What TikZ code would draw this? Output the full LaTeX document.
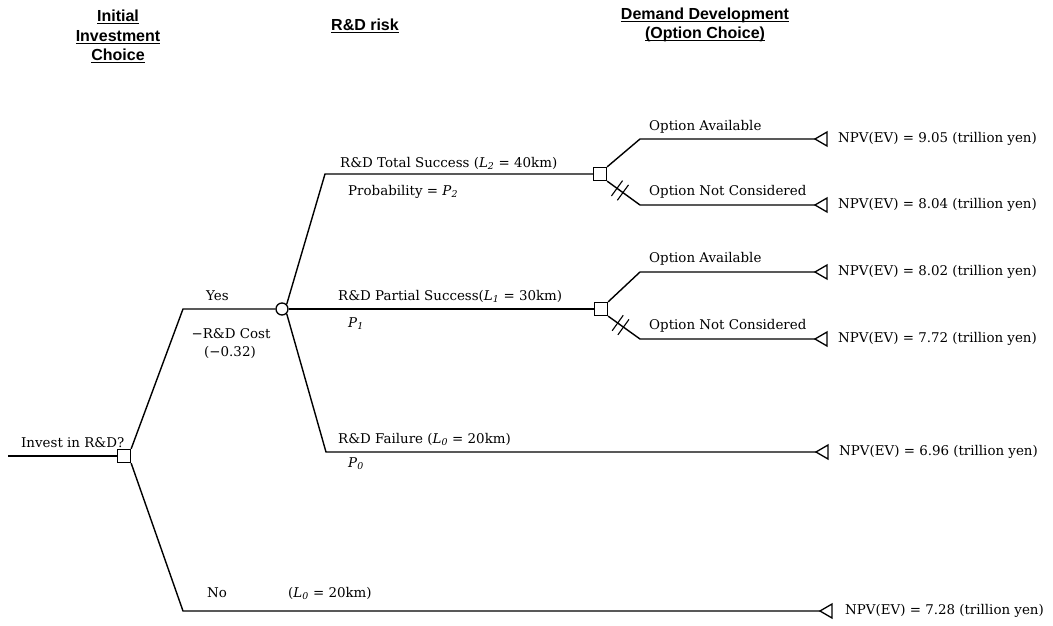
\documentclass[tikz,border=0pt]{standalone}
\usepackage{fontspec}
\setmainfont{DejaVu Serif}
\newfontfamily\hdrfont{Liberation Sans}
\usetikzlibrary{calc}

% underline a header line with a rule that sits just under the baseline
\newcommand\hdrline[1]{\setbox0=\hbox{#1}\rlap{\rule[-2.4pt]{\wd0}{1.3pt}}\box0}
% italic variable with italic subscript
\newcommand\var[2]{\textit{#1}\textsubscript{\textit{#2}}}

\tikzset{
  decision/.style={draw, fill=white, rectangle, minimum size=13pt, inner sep=0pt, line width=1.3pt},
  chance/.style={draw, fill=white, circle, minimum size=12pt, inner sep=0pt, line width=1.3pt},
  branch/.style={line width=1.4pt},
  lbl/.style={anchor=base west, inner sep=0pt, font=\fontsize{13.4}{15}\selectfont},
  lblc/.style={anchor=base, inner sep=0pt, font=\fontsize{13.4}{15}\selectfont},
  npv/.style={anchor=west, inner sep=0pt, font=\fontsize{13.4}{15}\selectfont},
  hdr/.style={anchor=base, inner sep=0pt, font=\hdrfont\bfseries\fontsize{16}{19.5}\selectfont},
  payoff/.pic={\draw[line width=1.3pt, line join=miter] (0,0) -- (12,-7) -- (12,7) -- cycle;}
}

\begin{document}
\begin{tikzpicture}[x=1pt, y=-1pt]
\useasboundingbox (0,0) rectangle (1053,626);

% column headers
\node[hdr] (h1a) at (118,22) {\hdrline{Initial}};
\node[hdr] (h1b) at (118,41.5) {\hdrline{Investment}};
\node[hdr] (h1c) at (118,61) {\hdrline{Choice}};
\node[hdr] (h2)  at (365,31) {\hdrline{R\&D risk}};
\node[hdr] (h3a) at (705,19.5) {\hdrline{Demand Development}};
\node[hdr] (h3b) at (705,39) {\hdrline{(Option Choice)}};

% tree points
\coordinate (root) at (8,456);
\coordinate (yesC) at (183,309);
\coordinate (noC)  at (183,611);
\coordinate (topC) at (325,174);
\coordinate (failC) at (326,452);
\coordinate (u1) at (640,139);
\coordinate (l1) at (640,205);
\coordinate (u2) at (640,272);
\coordinate (l2) at (640,339);
\coordinate (t1) at (815,139);
\coordinate (t2) at (815,205);
\coordinate (t3) at (815,272);
\coordinate (t4) at (815,339);
\coordinate (t5) at (816,452);
\coordinate (t6) at (820,611);

% decision and chance nodes
\node[decision] (d0) at (124,456) {};
\node[chance]   (c1) at (282,309) {};
\node[decision] (d1) at (600,174) {};
\node[decision] (d2) at (601,309) {};

% branches
\draw[branch] (root) -- (d0.west);
\draw[branch] (d0.north east) -- (yesC) -- (c1.west);
\draw[branch] (d0.south east) -- (noC) -- (t6);
\draw[branch] (c1.north east) -- (topC) -- (d1.west);
\draw[branch] (c1.east) -- (d2.west);
\draw[branch] (c1.south east) -- (failC) -- (t5);
\draw[branch] (d1.north east) -- (u1) -- (t1);
\draw[branch] (d1.south east) -- (l1) -- (t2);
\draw[branch] (d2.north east) -- (u2) -- (t3);
\draw[branch] (d2.south east) -- (l2) -- (t4);

% blocked-option marks on the rejected branches
\foreach \d/\e in {d1/l1, d2/l2} {
  \coordinate (ha) at ($(\d.south east)!0.30!(\e)$);
  \coordinate (hb) at ($(\d.south east)!0.48!(\e)$);
  \draw[line width=1.1pt] ($(ha)!9.5pt!90:(\e)$) -- ($(ha)!9.5pt!-90:(\e)$);
  \draw[line width=1.1pt] ($(hb)!9.5pt!90:(\e)$) -- ($(hb)!9.5pt!-90:(\e)$);
}

% end points
\foreach \t in {t1,t2,t3,t4,t5,t6} { \pic at (\t) {payoff}; }

% branch labels
\node[lbl] (linv) at (21,447) {Invest in R\&D?};
\node[lbl] (lyes) at (206,300) {Yes};
\node[lblc] (lcost) at (231,338) {−R\&D Cost};
\node[lblc] (lcostv) at (230,356) {(−0.32)};
\node[lbl] (lno) at (207,597) {No};
\node[lbl] (lnoL) at (288,597) {(\var{L}{0} = 20km)};

\node[lbl] (ltot) at (340,167) {R\&D Total Success (\var{L}{2} = 40km)};
\node[lbl] (lp2) at (348,195) {Probability = \var{P}{2}};
\node[lbl] (lpar) at (338,300) {R\&D Partial Success(\var{L}{1} = 30km)};
\node[lbl] (lp1) at (348,327) {\var{P}{1}};
\node[lbl] (lfail) at (338,443) {R\&D Failure (\var{L}{0} = 20km)};
\node[lbl] (lp0) at (348,467) {\var{P}{0}};

\node[lbl] (oa1) at (649,130) {Option Available};
\node[lbl] (on1) at (649,195) {Option Not Considered};
\node[lbl] (oa2) at (649,262) {Option Available};
\node[lbl] (on2) at (649,329) {Option Not Considered};

% payoffs
\node[npv] (v1) at (838,139) {NPV(EV) = 9.05 (trillion yen)};
\node[npv] (v2) at (838,205) {NPV(EV) = 8.04 (trillion yen)};
\node[npv] (v3) at (838,272) {NPV(EV) = 8.02 (trillion yen)};
\node[npv] (v4) at (838,339) {NPV(EV) = 7.72 (trillion yen)};
\node[npv] (v5) at (839,452) {NPV(EV) = 6.96 (trillion yen)};
\node[npv] (v6) at (845,611) {NPV(EV) = 7.28 (trillion yen)};
\end{tikzpicture}
\end{document}
